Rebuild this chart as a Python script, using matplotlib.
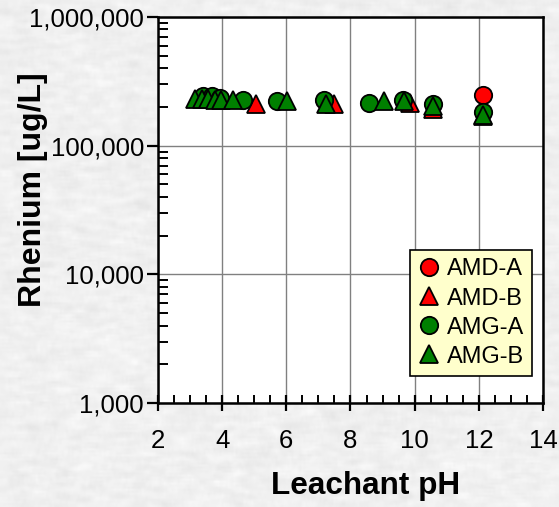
import numpy as np
import matplotlib
matplotlib.use("Agg")
import matplotlib.pyplot as plt
from matplotlib.ticker import FuncFormatter, LogLocator, MultipleLocator
from matplotlib.lines import Line2D

plt.rcParams['font.family'] = ['Liberation Sans', 'DejaVu Sans']

# Rhenium leached at each pH (ug/L)
amd_a_ph = [12.13]
amd_a_re = [249000]

amd_b_ph = [5.05, 7.49, 9.86, 10.57, 12.13]
amd_b_re = [212000, 211000, 214000, 192000, 170000]

amg_a_ph = [3.40, 3.68, 3.92, 4.65, 5.71, 7.17, 8.58, 9.63, 10.57, 12.13]
amg_a_re = [244000, 243000, 236000, 227000, 223000, 227000, 215000, 227000, 209000, 184000]

amg_b_ph = [3.15, 3.37, 3.56, 3.78, 3.97, 4.34, 6.02, 7.24, 9.04, 9.67, 10.57, 12.13]
amg_b_re = [230000, 231000, 229000, 228000, 228000, 226000, 222000, 212000, 222000, 222000, 203000, 174000]

series = [
    ("AMD-A", amd_a_ph, amd_a_re, 'o', '#ff0000'),
    ("AMD-B", amd_b_ph, amd_b_re, '^', '#ff0000'),
    ("AMG-A", amg_a_ph, amg_a_re, 'o', '#008000'),
    ("AMG-B", amg_b_ph, amg_b_re, '^', '#008000'),
]

fig = plt.figure(figsize=(5.59, 5.07), dpi=100)

# light grey marbled backdrop
bg = fig.add_axes([0, 0, 1, 1], zorder=-10)
rng = np.random.default_rng(7)
noise = rng.normal(0, 1, (250, 280))
k = np.ones(3) / 3
noise = np.apply_along_axis(lambda r: np.convolve(r, np.ones(7) / 7, mode='same'), 1, noise)
noise = np.apply_along_axis(lambda c: np.convolve(c, k, mode='same'), 0, noise)
noise = noise / noise.std()
bg.imshow(0.94 + 0.011 * noise, cmap='gray', vmin=0, vmax=1, aspect='auto',
          interpolation='bilinear')
bg.axis('off')

ax = fig.add_axes([0.2826, 0.2051, 0.6888, 0.7614])
ax.set_facecolor('white')

for name, x, y, m, c in series:
    ax.plot(x, y, linestyle='none', marker=m, markersize=12.5, markerfacecolor=c,
            markeredgecolor='black', markeredgewidth=1.3, label=name, zorder=3)

ax.set_yscale('log')
ax.set_xlim(2, 14)
ax.set_ylim(1000, 1000000)

ax.xaxis.set_major_locator(MultipleLocator(2))
ax.xaxis.set_minor_locator(MultipleLocator(0.5))
ax.yaxis.set_major_locator(LogLocator(base=10))
ax.yaxis.set_minor_locator(LogLocator(base=10, subs=np.arange(2, 10)))
ax.yaxis.set_major_formatter(FuncFormatter(lambda v, p: f"{v:,.0f}"))
ax.yaxis.set_minor_formatter(FuncFormatter(lambda v, p: ""))

ax.grid(True, which='major', color='#808080', linewidth=1.0, zorder=1)

ax.tick_params(axis='x', which='major', direction='inout', length=12, width=1.6,
               labelsize=18.5, pad=13)
ax.tick_params(axis='x', which='minor', direction='in', length=6, width=1.4)
ax.tick_params(axis='y', which='major', direction='out', length=8, width=1.6,
               labelsize=18.5, pad=2)
ax.tick_params(axis='y', which='minor', direction='in', length=7, width=1.4)
for s in ax.spines.values():
    s.set_linewidth(1.8)
    s.set_color('black')

ax.set_xlabel("Leachant pH", fontsize=22.7, fontweight='bold')
ax.set_ylabel("Rhenium [ug/L]", fontsize=23, fontweight='bold')
# label positions in axes fractions
ax.xaxis.set_label_coords(0.538, -0.176)
ax.yaxis.set_label_coords(-0.286, 0.553)

handles = [Line2D([], [], linestyle='none', marker=m, markersize=12.5, markerfacecolor=c,
                  markeredgecolor='black', markeredgewidth=1.3) for _, _, _, m, c in series]
leg = ax.legend(handles, [s[0] for s in series], loc='lower right',
                bbox_to_anchor=(0.972, 0.07), borderaxespad=0, fontsize=17,
                frameon=True, fancybox=False, framealpha=1, edgecolor='black',
                facecolor='#ffffcc', handlelength=0.9, handletextpad=0.3,
                labelspacing=0.3, borderpad=0.35)
leg.get_frame().set_linewidth(1.2)

fig.savefig("out.png", dpi=100)
